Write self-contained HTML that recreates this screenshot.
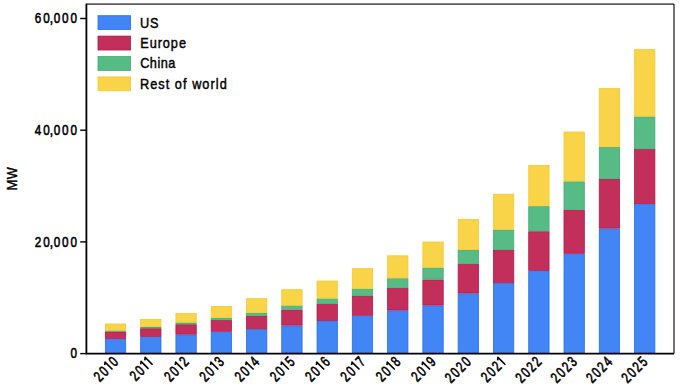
<!DOCTYPE html>
<html><head><meta charset="utf-8"><style>
html,body{margin:0;padding:0;background:#fff;}
body{width:680px;height:390px;overflow:hidden;}
svg{display:block;}
text{font-family:"Liberation Sans", sans-serif;fill:#000;stroke:#000;stroke-width:0.6px;}
text.lg{stroke-width:0.45px;}
</style></head><body>
<svg width="680" height="390" viewBox="0 0 680 390">
<rect x="105.35" y="339.30" width="20.35" height="13.90" fill="#4285F4" stroke="#2470F2" stroke-width="0.8"/>
<rect x="105.35" y="331.90" width="20.35" height="6.60" fill="#C12F5A" stroke="#B8164A" stroke-width="0.8"/>
<rect x="105.35" y="330.90" width="20.35" height="0.20" fill="#57BB85" stroke="#3EAE72" stroke-width="0.8"/>
<rect x="105.35" y="324.00" width="20.35" height="6.10" fill="#F9D448" stroke="#F5CA2E" stroke-width="0.8"/>
<rect x="140.63" y="337.20" width="20.35" height="16.00" fill="#4285F4" stroke="#2470F2" stroke-width="0.8"/>
<rect x="140.63" y="328.70" width="20.35" height="7.70" fill="#C12F5A" stroke="#B8164A" stroke-width="0.8"/>
<rect x="140.63" y="327.20" width="20.35" height="0.70" fill="#57BB85" stroke="#3EAE72" stroke-width="0.8"/>
<rect x="140.63" y="319.40" width="20.35" height="7.00" fill="#F9D448" stroke="#F5CA2E" stroke-width="0.8"/>
<rect x="175.91" y="335.00" width="20.35" height="18.20" fill="#4285F4" stroke="#2470F2" stroke-width="0.8"/>
<rect x="175.91" y="324.70" width="20.35" height="9.50" fill="#C12F5A" stroke="#B8164A" stroke-width="0.8"/>
<rect x="175.91" y="322.90" width="20.35" height="1.00" fill="#57BB85" stroke="#3EAE72" stroke-width="0.8"/>
<rect x="175.91" y="313.50" width="20.35" height="8.60" fill="#F9D448" stroke="#F5CA2E" stroke-width="0.8"/>
<rect x="211.19" y="332.10" width="20.35" height="21.10" fill="#4285F4" stroke="#2470F2" stroke-width="0.8"/>
<rect x="211.19" y="320.50" width="20.35" height="10.80" fill="#C12F5A" stroke="#B8164A" stroke-width="0.8"/>
<rect x="211.19" y="318.40" width="20.35" height="1.30" fill="#57BB85" stroke="#3EAE72" stroke-width="0.8"/>
<rect x="211.19" y="306.40" width="20.35" height="11.20" fill="#F9D448" stroke="#F5CA2E" stroke-width="0.8"/>
<rect x="246.47" y="329.60" width="20.35" height="23.60" fill="#4285F4" stroke="#2470F2" stroke-width="0.8"/>
<rect x="246.47" y="316.40" width="20.35" height="12.40" fill="#C12F5A" stroke="#B8164A" stroke-width="0.8"/>
<rect x="246.47" y="313.40" width="20.35" height="2.20" fill="#57BB85" stroke="#3EAE72" stroke-width="0.8"/>
<rect x="246.47" y="298.70" width="20.35" height="13.90" fill="#F9D448" stroke="#F5CA2E" stroke-width="0.8"/>
<rect x="281.75" y="325.90" width="20.35" height="27.30" fill="#4285F4" stroke="#2470F2" stroke-width="0.8"/>
<rect x="281.75" y="310.00" width="20.35" height="15.10" fill="#C12F5A" stroke="#B8164A" stroke-width="0.8"/>
<rect x="281.75" y="305.90" width="20.35" height="3.30" fill="#57BB85" stroke="#3EAE72" stroke-width="0.8"/>
<rect x="281.75" y="289.70" width="20.35" height="15.40" fill="#F9D448" stroke="#F5CA2E" stroke-width="0.8"/>
<rect x="317.03" y="321.40" width="20.35" height="31.80" fill="#4285F4" stroke="#2470F2" stroke-width="0.8"/>
<rect x="317.03" y="304.20" width="20.35" height="16.40" fill="#C12F5A" stroke="#B8164A" stroke-width="0.8"/>
<rect x="317.03" y="298.90" width="20.35" height="4.50" fill="#57BB85" stroke="#3EAE72" stroke-width="0.8"/>
<rect x="317.03" y="281.00" width="20.35" height="17.10" fill="#F9D448" stroke="#F5CA2E" stroke-width="0.8"/>
<rect x="352.31" y="316.10" width="20.35" height="37.10" fill="#4285F4" stroke="#2470F2" stroke-width="0.8"/>
<rect x="352.31" y="296.40" width="20.35" height="18.90" fill="#C12F5A" stroke="#B8164A" stroke-width="0.8"/>
<rect x="352.31" y="289.20" width="20.35" height="6.40" fill="#57BB85" stroke="#3EAE72" stroke-width="0.8"/>
<rect x="352.31" y="268.60" width="20.35" height="19.80" fill="#F9D448" stroke="#F5CA2E" stroke-width="0.8"/>
<rect x="387.59" y="310.80" width="20.35" height="42.40" fill="#4285F4" stroke="#2470F2" stroke-width="0.8"/>
<rect x="387.59" y="288.20" width="20.35" height="21.80" fill="#C12F5A" stroke="#B8164A" stroke-width="0.8"/>
<rect x="387.59" y="278.70" width="20.35" height="8.70" fill="#57BB85" stroke="#3EAE72" stroke-width="0.8"/>
<rect x="387.59" y="255.80" width="20.35" height="22.10" fill="#F9D448" stroke="#F5CA2E" stroke-width="0.8"/>
<rect x="422.87" y="305.90" width="20.35" height="47.30" fill="#4285F4" stroke="#2470F2" stroke-width="0.8"/>
<rect x="422.87" y="279.90" width="20.35" height="25.20" fill="#C12F5A" stroke="#B8164A" stroke-width="0.8"/>
<rect x="422.87" y="268.00" width="20.35" height="11.10" fill="#57BB85" stroke="#3EAE72" stroke-width="0.8"/>
<rect x="422.87" y="242.00" width="20.35" height="25.20" fill="#F9D448" stroke="#F5CA2E" stroke-width="0.8"/>
<rect x="458.15" y="293.80" width="20.35" height="59.40" fill="#4285F4" stroke="#2470F2" stroke-width="0.8"/>
<rect x="458.15" y="264.20" width="20.35" height="28.80" fill="#C12F5A" stroke="#B8164A" stroke-width="0.8"/>
<rect x="458.15" y="250.40" width="20.35" height="13.00" fill="#57BB85" stroke="#3EAE72" stroke-width="0.8"/>
<rect x="458.15" y="219.50" width="20.35" height="30.10" fill="#F9D448" stroke="#F5CA2E" stroke-width="0.8"/>
<rect x="493.43" y="283.50" width="20.35" height="69.70" fill="#4285F4" stroke="#2470F2" stroke-width="0.8"/>
<rect x="493.43" y="250.40" width="20.35" height="32.30" fill="#C12F5A" stroke="#B8164A" stroke-width="0.8"/>
<rect x="493.43" y="230.00" width="20.35" height="19.60" fill="#57BB85" stroke="#3EAE72" stroke-width="0.8"/>
<rect x="493.43" y="194.20" width="20.35" height="35.00" fill="#F9D448" stroke="#F5CA2E" stroke-width="0.8"/>
<rect x="528.71" y="271.20" width="20.35" height="82.00" fill="#4285F4" stroke="#2470F2" stroke-width="0.8"/>
<rect x="528.71" y="231.70" width="20.35" height="38.70" fill="#C12F5A" stroke="#B8164A" stroke-width="0.8"/>
<rect x="528.71" y="206.60" width="20.35" height="24.30" fill="#57BB85" stroke="#3EAE72" stroke-width="0.8"/>
<rect x="528.71" y="165.40" width="20.35" height="40.40" fill="#F9D448" stroke="#F5CA2E" stroke-width="0.8"/>
<rect x="563.99" y="254.10" width="20.35" height="99.10" fill="#4285F4" stroke="#2470F2" stroke-width="0.8"/>
<rect x="563.99" y="210.10" width="20.35" height="43.20" fill="#C12F5A" stroke="#B8164A" stroke-width="0.8"/>
<rect x="563.99" y="181.80" width="20.35" height="27.50" fill="#57BB85" stroke="#3EAE72" stroke-width="0.8"/>
<rect x="563.99" y="132.00" width="20.35" height="49.00" fill="#F9D448" stroke="#F5CA2E" stroke-width="0.8"/>
<rect x="599.27" y="228.90" width="20.35" height="124.30" fill="#4285F4" stroke="#2470F2" stroke-width="0.8"/>
<rect x="599.27" y="179.40" width="20.35" height="48.70" fill="#C12F5A" stroke="#B8164A" stroke-width="0.8"/>
<rect x="599.27" y="147.50" width="20.35" height="31.10" fill="#57BB85" stroke="#3EAE72" stroke-width="0.8"/>
<rect x="599.27" y="88.60" width="20.35" height="58.10" fill="#F9D448" stroke="#F5CA2E" stroke-width="0.8"/>
<rect x="634.55" y="204.40" width="20.35" height="148.80" fill="#4285F4" stroke="#2470F2" stroke-width="0.8"/>
<rect x="634.55" y="149.50" width="20.35" height="54.10" fill="#C12F5A" stroke="#B8164A" stroke-width="0.8"/>
<rect x="634.55" y="116.90" width="20.35" height="31.80" fill="#57BB85" stroke="#3EAE72" stroke-width="0.8"/>
<rect x="634.55" y="49.60" width="20.35" height="66.50" fill="#F9D448" stroke="#F5CA2E" stroke-width="0.8"/>

<line x1="86.4" y1="4.1" x2="674.0" y2="4.1" stroke="rgba(0,0,0,0.63)" stroke-width="1.75"/>
<line x1="674.0" y1="4.1" x2="674.0" y2="353.6" stroke="rgba(0,0,0,0.63)" stroke-width="1.75"/>
<line x1="86.4" y1="3.8" x2="86.4" y2="353.6" stroke="#000" stroke-width="1.8"/>
<line x1="85.5" y1="353.6" x2="674.0" y2="353.6" stroke="#000" stroke-width="1.9"/>

<line x1="80.2" y1="353.6" x2="86.4" y2="353.6" stroke="#000" stroke-width="1.4"/><line x1="80.2" y1="241.9" x2="86.4" y2="241.9" stroke="#000" stroke-width="1.4"/><line x1="80.2" y1="130.2" x2="86.4" y2="130.2" stroke="#000" stroke-width="1.4"/><line x1="80.2" y1="18.5" x2="86.4" y2="18.5" stroke="#000" stroke-width="1.4"/>
<text transform="translate(73.75,358.35) scale(0.78,1)" x="0" y="0" text-anchor="middle" font-size="15">0</text>
<text transform="translate(73.75,246.65) scale(0.78,1)" x="0" y="0" text-anchor="middle" font-size="15">0</text>
<text transform="translate(65.30,246.65) scale(0.78,1)" x="0" y="0" text-anchor="middle" font-size="15">0</text>
<text transform="translate(57.05,246.65) scale(0.78,1)" x="0" y="0" text-anchor="middle" font-size="15">0</text>
<text transform="translate(51.40,246.65) scale(0.8,1)" x="0" y="0" text-anchor="middle" font-size="15">,</text>
<text transform="translate(46.45,246.65) scale(0.78,1)" x="0" y="0" text-anchor="middle" font-size="15">0</text>
<text transform="translate(38.00,246.65) scale(0.78,1)" x="0" y="0" text-anchor="middle" font-size="15">2</text>
<text transform="translate(73.75,134.95) scale(0.78,1)" x="0" y="0" text-anchor="middle" font-size="15">0</text>
<text transform="translate(65.30,134.95) scale(0.78,1)" x="0" y="0" text-anchor="middle" font-size="15">0</text>
<text transform="translate(57.05,134.95) scale(0.78,1)" x="0" y="0" text-anchor="middle" font-size="15">0</text>
<text transform="translate(51.40,134.95) scale(0.8,1)" x="0" y="0" text-anchor="middle" font-size="15">,</text>
<text transform="translate(46.45,134.95) scale(0.78,1)" x="0" y="0" text-anchor="middle" font-size="15">0</text>
<text transform="translate(38.00,134.95) scale(0.78,1)" x="0" y="0" text-anchor="middle" font-size="15">4</text>
<text transform="translate(73.75,23.25) scale(0.78,1)" x="0" y="0" text-anchor="middle" font-size="15">0</text>
<text transform="translate(65.30,23.25) scale(0.78,1)" x="0" y="0" text-anchor="middle" font-size="15">0</text>
<text transform="translate(57.05,23.25) scale(0.78,1)" x="0" y="0" text-anchor="middle" font-size="15">0</text>
<text transform="translate(51.40,23.25) scale(0.8,1)" x="0" y="0" text-anchor="middle" font-size="15">,</text>
<text transform="translate(46.45,23.25) scale(0.78,1)" x="0" y="0" text-anchor="middle" font-size="15">0</text>
<text transform="translate(38.00,23.25) scale(0.78,1)" x="0" y="0" text-anchor="middle" font-size="15">6</text>
<text transform="translate(113.23,361.40) rotate(-45) scale(0.740,1)" x="0" y="5.25" text-anchor="middle" font-size="15.0" style="stroke-width:0.6px">0</text>
<path transform="translate(108.43,366.19) rotate(-45)" d="M0.5,5.25V-5.25L-1.9,-3.35" fill="none" stroke="#000" stroke-width="1.6" stroke-linejoin="round"/>
<text transform="translate(103.64,370.99) rotate(-45) scale(0.740,1)" x="0" y="5.25" text-anchor="middle" font-size="15.0" style="stroke-width:0.6px">0</text>
<text transform="translate(98.12,376.50) rotate(-45) scale(0.740,1)" x="0" y="5.25" text-anchor="middle" font-size="15.0" style="stroke-width:0.6px">2</text>
<path transform="translate(148.50,361.40) rotate(-45)" d="M0.5,5.25V-5.25L-1.9,-3.35" fill="none" stroke="#000" stroke-width="1.6" stroke-linejoin="round"/>
<path transform="translate(144.43,365.47) rotate(-45)" d="M0.5,5.25V-5.25L-1.9,-3.35" fill="none" stroke="#000" stroke-width="1.6" stroke-linejoin="round"/>
<text transform="translate(139.64,370.26) rotate(-45) scale(0.740,1)" x="0" y="5.25" text-anchor="middle" font-size="15.0" style="stroke-width:0.6px">0</text>
<text transform="translate(134.13,375.78) rotate(-45) scale(0.740,1)" x="0" y="5.25" text-anchor="middle" font-size="15.0" style="stroke-width:0.6px">2</text>
<text transform="translate(183.78,361.40) rotate(-45) scale(0.740,1)" x="0" y="5.25" text-anchor="middle" font-size="15.0" style="stroke-width:0.6px">2</text>
<path transform="translate(178.99,366.19) rotate(-45)" d="M0.5,5.25V-5.25L-1.9,-3.35" fill="none" stroke="#000" stroke-width="1.6" stroke-linejoin="round"/>
<text transform="translate(174.20,370.99) rotate(-45) scale(0.740,1)" x="0" y="5.25" text-anchor="middle" font-size="15.0" style="stroke-width:0.6px">0</text>
<text transform="translate(168.68,376.50) rotate(-45) scale(0.740,1)" x="0" y="5.25" text-anchor="middle" font-size="15.0" style="stroke-width:0.6px">2</text>
<text transform="translate(219.06,361.40) rotate(-45) scale(0.740,1)" x="0" y="5.25" text-anchor="middle" font-size="15.0" style="stroke-width:0.6px">3</text>
<path transform="translate(214.27,366.19) rotate(-45)" d="M0.5,5.25V-5.25L-1.9,-3.35" fill="none" stroke="#000" stroke-width="1.6" stroke-linejoin="round"/>
<text transform="translate(209.48,370.99) rotate(-45) scale(0.740,1)" x="0" y="5.25" text-anchor="middle" font-size="15.0" style="stroke-width:0.6px">0</text>
<text transform="translate(203.96,376.50) rotate(-45) scale(0.740,1)" x="0" y="5.25" text-anchor="middle" font-size="15.0" style="stroke-width:0.6px">2</text>
<text transform="translate(254.34,361.40) rotate(-45) scale(0.740,1)" x="0" y="5.25" text-anchor="middle" font-size="15.0" style="stroke-width:0.6px">4</text>
<path transform="translate(249.55,366.19) rotate(-45)" d="M0.5,5.25V-5.25L-1.9,-3.35" fill="none" stroke="#000" stroke-width="1.6" stroke-linejoin="round"/>
<text transform="translate(244.76,370.99) rotate(-45) scale(0.740,1)" x="0" y="5.25" text-anchor="middle" font-size="15.0" style="stroke-width:0.6px">0</text>
<text transform="translate(239.24,376.50) rotate(-45) scale(0.740,1)" x="0" y="5.25" text-anchor="middle" font-size="15.0" style="stroke-width:0.6px">2</text>
<text transform="translate(289.62,361.40) rotate(-45) scale(0.740,1)" x="0" y="5.25" text-anchor="middle" font-size="15.0" style="stroke-width:0.6px">5</text>
<path transform="translate(284.83,366.19) rotate(-45)" d="M0.5,5.25V-5.25L-1.9,-3.35" fill="none" stroke="#000" stroke-width="1.6" stroke-linejoin="round"/>
<text transform="translate(280.04,370.99) rotate(-45) scale(0.740,1)" x="0" y="5.25" text-anchor="middle" font-size="15.0" style="stroke-width:0.6px">0</text>
<text transform="translate(274.52,376.50) rotate(-45) scale(0.740,1)" x="0" y="5.25" text-anchor="middle" font-size="15.0" style="stroke-width:0.6px">2</text>
<text transform="translate(324.90,361.40) rotate(-45) scale(0.740,1)" x="0" y="5.25" text-anchor="middle" font-size="15.0" style="stroke-width:0.6px">6</text>
<path transform="translate(320.11,366.19) rotate(-45)" d="M0.5,5.25V-5.25L-1.9,-3.35" fill="none" stroke="#000" stroke-width="1.6" stroke-linejoin="round"/>
<text transform="translate(315.32,370.99) rotate(-45) scale(0.740,1)" x="0" y="5.25" text-anchor="middle" font-size="15.0" style="stroke-width:0.6px">0</text>
<text transform="translate(309.80,376.50) rotate(-45) scale(0.740,1)" x="0" y="5.25" text-anchor="middle" font-size="15.0" style="stroke-width:0.6px">2</text>
<text transform="translate(360.19,361.40) rotate(-45) scale(0.740,1)" x="0" y="5.25" text-anchor="middle" font-size="15.0" style="stroke-width:0.6px">7</text>
<path transform="translate(355.39,366.19) rotate(-45)" d="M0.5,5.25V-5.25L-1.9,-3.35" fill="none" stroke="#000" stroke-width="1.6" stroke-linejoin="round"/>
<text transform="translate(350.60,370.99) rotate(-45) scale(0.740,1)" x="0" y="5.25" text-anchor="middle" font-size="15.0" style="stroke-width:0.6px">0</text>
<text transform="translate(345.08,376.50) rotate(-45) scale(0.740,1)" x="0" y="5.25" text-anchor="middle" font-size="15.0" style="stroke-width:0.6px">2</text>
<text transform="translate(395.46,361.40) rotate(-45) scale(0.740,1)" x="0" y="5.25" text-anchor="middle" font-size="15.0" style="stroke-width:0.6px">8</text>
<path transform="translate(390.67,366.19) rotate(-45)" d="M0.5,5.25V-5.25L-1.9,-3.35" fill="none" stroke="#000" stroke-width="1.6" stroke-linejoin="round"/>
<text transform="translate(385.88,370.99) rotate(-45) scale(0.740,1)" x="0" y="5.25" text-anchor="middle" font-size="15.0" style="stroke-width:0.6px">0</text>
<text transform="translate(380.36,376.50) rotate(-45) scale(0.740,1)" x="0" y="5.25" text-anchor="middle" font-size="15.0" style="stroke-width:0.6px">2</text>
<text transform="translate(430.74,361.40) rotate(-45) scale(0.740,1)" x="0" y="5.25" text-anchor="middle" font-size="15.0" style="stroke-width:0.6px">9</text>
<path transform="translate(425.95,366.19) rotate(-45)" d="M0.5,5.25V-5.25L-1.9,-3.35" fill="none" stroke="#000" stroke-width="1.6" stroke-linejoin="round"/>
<text transform="translate(421.16,370.99) rotate(-45) scale(0.740,1)" x="0" y="5.25" text-anchor="middle" font-size="15.0" style="stroke-width:0.6px">0</text>
<text transform="translate(415.64,376.50) rotate(-45) scale(0.740,1)" x="0" y="5.25" text-anchor="middle" font-size="15.0" style="stroke-width:0.6px">2</text>
<text transform="translate(466.02,361.40) rotate(-45) scale(0.740,1)" x="0" y="5.25" text-anchor="middle" font-size="15.0" style="stroke-width:0.6px">0</text>
<text transform="translate(460.51,366.92) rotate(-45) scale(0.740,1)" x="0" y="5.25" text-anchor="middle" font-size="15.0" style="stroke-width:0.6px">2</text>
<text transform="translate(454.99,372.43) rotate(-45) scale(0.740,1)" x="0" y="5.25" text-anchor="middle" font-size="15.0" style="stroke-width:0.6px">0</text>
<text transform="translate(449.48,377.95) rotate(-45) scale(0.740,1)" x="0" y="5.25" text-anchor="middle" font-size="15.0" style="stroke-width:0.6px">2</text>
<path transform="translate(501.31,361.40) rotate(-45)" d="M0.5,5.25V-5.25L-1.9,-3.35" fill="none" stroke="#000" stroke-width="1.6" stroke-linejoin="round"/>
<text transform="translate(496.51,366.19) rotate(-45) scale(0.740,1)" x="0" y="5.25" text-anchor="middle" font-size="15.0" style="stroke-width:0.6px">2</text>
<text transform="translate(491.00,371.71) rotate(-45) scale(0.740,1)" x="0" y="5.25" text-anchor="middle" font-size="15.0" style="stroke-width:0.6px">0</text>
<text transform="translate(485.48,377.22) rotate(-45) scale(0.740,1)" x="0" y="5.25" text-anchor="middle" font-size="15.0" style="stroke-width:0.6px">2</text>
<text transform="translate(536.59,361.40) rotate(-45) scale(0.740,1)" x="0" y="5.25" text-anchor="middle" font-size="15.0" style="stroke-width:0.6px">2</text>
<text transform="translate(531.07,366.92) rotate(-45) scale(0.740,1)" x="0" y="5.25" text-anchor="middle" font-size="15.0" style="stroke-width:0.6px">2</text>
<text transform="translate(525.55,372.43) rotate(-45) scale(0.740,1)" x="0" y="5.25" text-anchor="middle" font-size="15.0" style="stroke-width:0.6px">0</text>
<text transform="translate(520.04,377.95) rotate(-45) scale(0.740,1)" x="0" y="5.25" text-anchor="middle" font-size="15.0" style="stroke-width:0.6px">2</text>
<text transform="translate(571.87,361.40) rotate(-45) scale(0.740,1)" x="0" y="5.25" text-anchor="middle" font-size="15.0" style="stroke-width:0.6px">3</text>
<text transform="translate(566.35,366.92) rotate(-45) scale(0.740,1)" x="0" y="5.25" text-anchor="middle" font-size="15.0" style="stroke-width:0.6px">2</text>
<text transform="translate(560.83,372.43) rotate(-45) scale(0.740,1)" x="0" y="5.25" text-anchor="middle" font-size="15.0" style="stroke-width:0.6px">0</text>
<text transform="translate(555.32,377.95) rotate(-45) scale(0.740,1)" x="0" y="5.25" text-anchor="middle" font-size="15.0" style="stroke-width:0.6px">2</text>
<text transform="translate(607.15,361.40) rotate(-45) scale(0.740,1)" x="0" y="5.25" text-anchor="middle" font-size="15.0" style="stroke-width:0.6px">4</text>
<text transform="translate(601.63,366.92) rotate(-45) scale(0.740,1)" x="0" y="5.25" text-anchor="middle" font-size="15.0" style="stroke-width:0.6px">2</text>
<text transform="translate(596.11,372.43) rotate(-45) scale(0.740,1)" x="0" y="5.25" text-anchor="middle" font-size="15.0" style="stroke-width:0.6px">0</text>
<text transform="translate(590.60,377.95) rotate(-45) scale(0.740,1)" x="0" y="5.25" text-anchor="middle" font-size="15.0" style="stroke-width:0.6px">2</text>
<text transform="translate(642.43,361.40) rotate(-45) scale(0.740,1)" x="0" y="5.25" text-anchor="middle" font-size="15.0" style="stroke-width:0.6px">5</text>
<text transform="translate(636.91,366.92) rotate(-45) scale(0.740,1)" x="0" y="5.25" text-anchor="middle" font-size="15.0" style="stroke-width:0.6px">2</text>
<text transform="translate(631.39,372.43) rotate(-45) scale(0.740,1)" x="0" y="5.25" text-anchor="middle" font-size="15.0" style="stroke-width:0.6px">0</text>
<text transform="translate(625.88,377.95) rotate(-45) scale(0.740,1)" x="0" y="5.25" text-anchor="middle" font-size="15.0" style="stroke-width:0.6px">2</text>
<rect x="98.0" y="15.70" width="32.6" height="13.9" fill="#4285F4" stroke="#2470F2" stroke-width="0.8"/>
<text class="lg" transform="translate(140.05,27.65) scale(0.86,1)" x="0" y="0" font-size="14.8" textLength="21.37" lengthAdjust="spacing">US</text>
<rect x="98.0" y="36.10" width="32.6" height="13.9" fill="#C12F5A" stroke="#B8164A" stroke-width="0.8"/>
<text class="lg" transform="translate(140.25,48.05) scale(0.86,1)" x="0" y="0" font-size="14.8" textLength="53.18" lengthAdjust="spacing">Europe</text>
<rect x="98.0" y="56.50" width="32.6" height="13.9" fill="#57BB85" stroke="#3EAE72" stroke-width="0.8"/>
<text class="lg" transform="translate(140.20,68.45) scale(0.86,1)" x="0" y="0" font-size="14.8" textLength="40.99" lengthAdjust="spacing">China</text>
<rect x="98.0" y="76.90" width="32.6" height="13.9" fill="#F9D448" stroke="#F5CA2E" stroke-width="0.8"/>
<text class="lg" transform="translate(139.95,88.85) scale(0.86,1)" x="0" y="0" font-size="14.8" textLength="100.92" lengthAdjust="spacing">Rest of world</text>
<text class="lg" transform="translate(17.1,189.4) rotate(-90) translate(-0.75,0) scale(0.86,1)" x="0" y="0" font-size="14.8" textLength="26.75" lengthAdjust="spacing">MW</text>
</svg>
</body></html>
